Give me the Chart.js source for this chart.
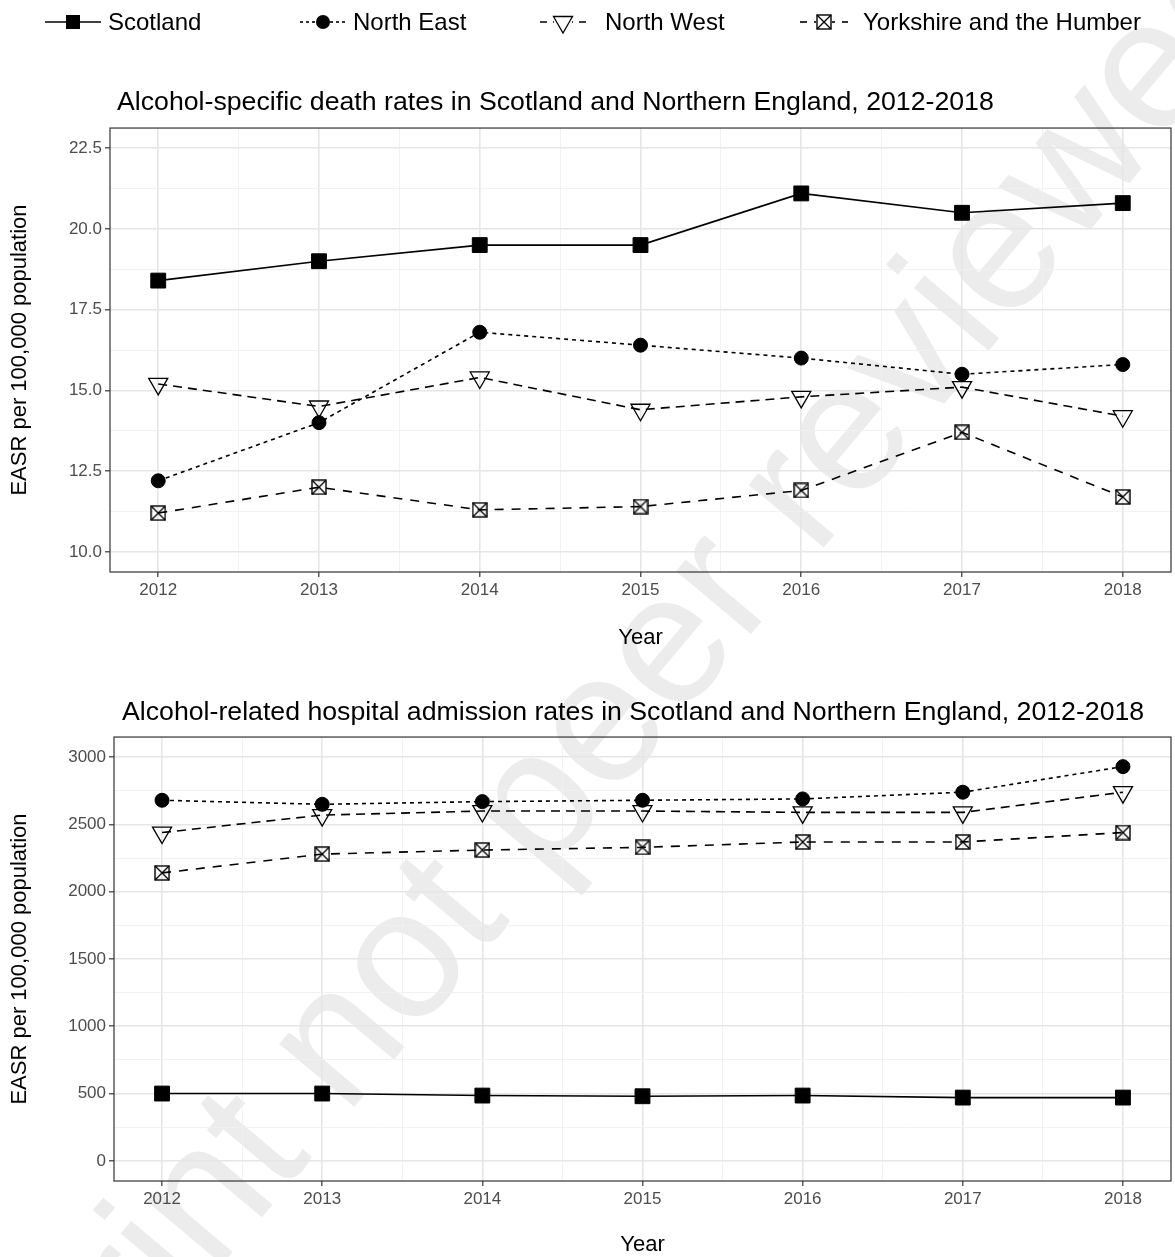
<!DOCTYPE html>
<html>
<head>
<meta charset="utf-8">
<script src="https://cdn.jsdelivr.net/npm/chart.js@4.4.1/dist/chart.umd.min.js"></script>
<style>
  body { margin: 0; background: #fff; }
  #wrap { position: relative; width: 1175px; height: 1257px; overflow: hidden; background: #fff; }
  canvas { position: absolute; left: 0; z-index: 1; }
  #deaths { top: 0; }
  #admissions { top: 660px; }
  #legend { position: absolute; top: 10px; left: 0; width: 1175px; height: 24px; z-index: 2;
            font: 24px 'Liberation Sans', Arial, sans-serif; color: #000; }
  #legend .item { position: absolute; top: 0; display: flex; align-items: center; height: 24px; white-space: nowrap; }
  #legend canvas { position: static; }
  #watermark { position: absolute; left: 545px; top: 780px; z-index: 0; white-space: nowrap;
               transform: translate(-50%, -50%) rotate(-50deg);
               font: 185px 'Liberation Sans', Arial, sans-serif; color: #ececec; }
</style>
</head>
<body>
<div id="wrap">
  <div id="watermark">Preprint not peer reviewed</div>
  <div id="legend"></div>
  <canvas id="deaths" width="1175" height="660"></canvas>
  <canvas id="admissions" width="1175" height="600"></canvas>
</div>
<script>
const years = [2012, 2013, 2014, 2015, 2016, 2017, 2018];
const regions = ['Scotland', 'North East', 'North West', 'Yorkshire and the Humber'];

// alcohol-specific deaths, EASR per 100,000
const deathScotland = [18.4, 19.0, 19.5, 19.5, 21.1, 20.5, 20.8];
const deathNorthEast = [12.2, 14.0, 16.8, 16.4, 16.0, 15.5, 15.8];
const deathNorthWest = [15.2, 14.5, 15.4, 14.4, 14.8, 15.1, 14.2];
const deathYorkshire = [11.2, 12.0, 11.3, 11.4, 11.9, 13.7, 11.7];

// alcohol-related hospital admissions, EASR per 100,000
const admScotland = [500, 500, 485, 480, 485, 470, 470];
const admNorthEast = [2680, 2650, 2670, 2680, 2690, 2740, 2930];
const admNorthWest = [2440, 2570, 2600, 2600, 2590, 2590, 2740];
const admYorkshire = [2140, 2280, 2310, 2330, 2370, 2370, 2440];

const deathTicks = [10, 12.5, 15, 17.5, 20, 22.5];
const admTicks = [0, 500, 1000, 1500, 2000, 2500, 3000];

const FONT = "'Liberation Sans', Arial, Helvetica, sans-serif";

// open square with a cross in it (ggplot shape 7)
function boxCross(size) {
  const c = document.createElement('canvas');
  c.width = size; c.height = size;
  const g = c.getContext('2d');
  g.strokeStyle = '#000';
  g.lineWidth = 1.4;
  g.strokeRect(1, 1, size - 2, size - 2);
  g.beginPath();
  g.moveTo(1, 1); g.lineTo(size - 1, size - 1);
  g.moveTo(size - 1, 1); g.lineTo(1, size - 1);
  g.stroke();
  return c;
}

const looks = [
  { dash: [], keyDash: [], pointStyle: 'rect', radius: 10.5, fill: '#000', rotation: 0, pb: 1 },
  { dash: [4, 4], keyDash: [3, 3], pointStyle: 'circle', radius: 7, fill: '#000', rotation: 0, pb: 1 },
  { dash: [9, 6], keyDash: [7, 6], pointStyle: 'triangle', radius: 11, fill: 'rgba(0,0,0,0)', rotation: 180, pb: 1.3 },
  { dash: [9, 8], keyDash: [7, 7], pointStyle: boxCross(16), radius: 8, fill: 'rgba(0,0,0,0)', rotation: 0, pb: 1.3 }
];

// where the legend keys and labels sit (px from the left)
const keyLeft = [45, 300, 540, 800];
const keyWidth = [56, 46, 46, 48];
const textLeft = [108, 353, 605, 863];

// legend keys: line type with the marker on it
function legendKey(i) {
  const w = keyWidth[i];
  const c = document.createElement('canvas');
  c.width = w; c.height = 24;
  const g = c.getContext('2d');
  const lk = looks[i];
  const m = w / 2;
  g.strokeStyle = '#000';
  g.fillStyle = '#000';
  g.lineWidth = 1.6;
  g.setLineDash(lk.keyDash);
  g.beginPath(); g.moveTo(0, 12); g.lineTo(w, 12); g.stroke();
  g.setLineDash([]);
  g.lineWidth = 1.3;
  if (i === 0) {
    g.fillRect(m - 7, 5, 14, 14);
  } else if (i === 1) {
    g.beginPath(); g.arc(m, 12, 7, 0, Math.PI * 2); g.fill();
  } else if (i === 2) {
    g.clearRect(m - 9, 6, 18, 17);
    g.beginPath(); g.moveTo(m - 9.5, 6.5); g.lineTo(m + 9.5, 6.5); g.lineTo(m, 23); g.closePath(); g.stroke();
  } else {
    g.clearRect(m - 8, 4, 16, 16);
    g.drawImage(boxCross(16), m - 8, 4);
  }
  return c;
}

const legendDiv = document.getElementById('legend');
regions.forEach((r, i) => {
  const item = document.createElement('div');
  item.className = 'item';
  item.style.left = keyLeft[i] + 'px';
  const key = legendKey(i);
  key.style.marginRight = (textLeft[i] - keyLeft[i] - keyWidth[i]) + 'px';
  item.appendChild(key);
  const span = document.createElement('span');
  span.textContent = r;
  item.appendChild(span);
  legendDiv.appendChild(item);
});

function series(values, i) {
  const lk = looks[i];
  return {
    label: regions[i],
    data: years.map((y, k) => ({ x: y, y: values[k] })),
    borderColor: '#000',
    backgroundColor: lk.fill,
    borderWidth: 1.6,
    borderDash: lk.dash,
    pointStyle: lk.pointStyle,
    pointRadius: lk.radius,
    pointHoverRadius: lk.radius,
    pointRotation: lk.rotation,
    pointBackgroundColor: lk.fill,
    pointBorderColor: '#000',
    pointBorderWidth: lk.pb,
    tension: 0,
    fill: false
  };
}

// major ticks plus the minor ones halfway between them
function withMinor(list) {
  const out = [];
  list.forEach((v, i) => {
    out.push({ value: v });
    if (i < list.length - 1) out.push({ value: (v + list[i + 1]) / 2 });
  });
  return out;
}

const panelBorder = {
  id: 'panelBorder',
  afterDatasetsDraw(chart) {
    const { ctx, chartArea: a } = chart;
    ctx.save();
    ctx.strokeStyle = '#333';
    ctx.lineWidth = 1.2;
    ctx.strokeRect(a.left, a.top, a.right - a.left, a.bottom - a.top);
    ctx.restore();
  }
};

const isMajor = (list, v) => list.some(t => Math.abs(t - v) < 1e-6);

function makeChart(id, opts) {
  const titleNudge = {
    id: 'titleNudge',
    afterLayout(chart) {
      if (chart.titleBlock) {
        chart.titleBlock.left += opts.titleShift;
        chart.titleBlock.right += opts.titleShift;
      }
    }
  };
  return new Chart(document.getElementById(id), {
    type: 'line',
    data: { datasets: opts.datasets },
    plugins: [panelBorder, titleNudge],
    options: {
      responsive: false,
      animation: false,
      devicePixelRatio: 1,
      layout: { autoPadding: false, padding: { top: 0, left: 0, right: 4, bottom: 0 } },
      plugins: {
        legend: { display: false },
        tooltip: { enabled: false },
        title: {
          display: true,
          text: opts.title,
          align: 'start',
          fullSize: false,
          color: '#000',
          font: { family: FONT, size: 26.7, weight: 'normal' },
          padding: opts.titlePad
        }
      },
      scales: {
        x: {
          type: 'linear',
          min: 2011.7,
          max: 2018.3,
          afterBuildTicks: s => { s.ticks = withMinor(years); },
          afterFit: s => { s.height = opts.xHeight; },
          border: { display: false },
          grid: {
            color: c => isMajor(years, c.tick.value) ? '#e6e6e6' : '#f1f1f1',
            lineWidth: c => isMajor(years, c.tick.value) ? 1.6 : 0.9,
            tickColor: c => isMajor(years, c.tick.value) ? '#333' : 'rgba(0,0,0,0)',
            tickLength: 5,
            tickWidth: 1.2
          },
          ticks: {
            autoSkip: false,
            maxRotation: 0,
            padding: 3,
            color: '#4d4d4d',
            font: { family: FONT, size: 17 },
            callback: v => isMajor(years, v) ? String(Math.round(v)) : ''
          },
          title: {
            display: true,
            text: 'Year',
            color: '#000',
            font: { family: FONT, size: 22 },
            padding: { top: 0, bottom: opts.xTitlePad }
          }
        },
        y: {
          min: opts.yMin,
          max: opts.yMax,
          afterBuildTicks: s => { s.ticks = withMinor(opts.yTicks); },
          afterFit: s => { s.width = opts.yWidth; },
          border: { display: false },
          grid: {
            color: c => isMajor(opts.yTicks, c.tick.value) ? '#e6e6e6' : '#f1f1f1',
            lineWidth: c => isMajor(opts.yTicks, c.tick.value) ? 1.6 : 0.9,
            tickColor: c => isMajor(opts.yTicks, c.tick.value) ? '#333' : 'rgba(0,0,0,0)',
            tickLength: 5,
            tickWidth: 1.2
          },
          ticks: {
            autoSkip: false,
            padding: 3,
            color: '#4d4d4d',
            font: { family: FONT, size: 17 },
            callback: v => isMajor(opts.yTicks, v) ? opts.fmt(v) : ''
          },
          title: {
            display: true,
            text: 'EASR per 100,000 population',
            color: '#000',
            font: { family: FONT, size: 22 },
            padding: { top: 7, bottom: 0 }
          }
        }
      }
    }
  });
}

makeChart('deaths', {
  title: 'Alcohol-specific death rates in Scotland and Northern England, 2012-2018',
  titlePad: { top: 87, bottom: 9 },
  titleShift: 7,
  datasets: [
    series(deathScotland, 0),
    series(deathNorthEast, 1),
    series(deathNorthWest, 2),
    series(deathYorkshire, 3)
  ],
  yMin: 9.375, yMax: 23.125, yTicks: deathTicks,
  fmt: v => v.toFixed(1),
  yWidth: 110, xHeight: 88, xTitlePad: 9
});

makeChart('admissions', {
  title: 'Alcohol-related hospital admission rates in Scotland and Northern England, 2012-2018',
  titlePad: { top: 37, bottom: 8 },
  titleShift: 8,
  datasets: [
    series(admScotland, 0),
    series(admNorthEast, 1),
    series(admNorthWest, 2),
    series(admYorkshire, 3)
  ],
  yMin: -150, yMax: 3150, yTicks: admTicks,
  fmt: v => String(v),
  yWidth: 114, xHeight: 79, xTitlePad: 2
});
</script>
</body>
</html>
